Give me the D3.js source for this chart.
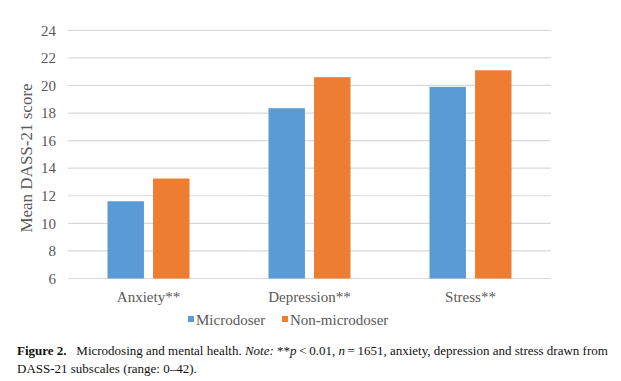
<!DOCTYPE html>
<html>
<head>
<meta charset="utf-8">
<script src="https://cdn.jsdelivr.net/npm/d3@7"></script>
<style>
  body { margin: 0; background: #fff; }
  svg text { font-family: "Liberation Serif", "Times New Roman", serif; }
</style>
</head>
<body>
<svg id="chart" width="621" height="381"></svg>
<script>
// data
var categories = ['Anxiety**', 'Depression**', 'Stress**'];
var seriesNames = ['Microdoser', 'Non-microdoser'];
var microdoser = [11.6, 18.35, 19.9];
var nonMicrodoser = [13.25, 20.6, 21.1];
var yTicks = [6, 8, 10, 12, 14, 16, 18, 20, 22, 24];
var colors = ['#5b9bd5', '#ed7d31'];

var svg = d3.select('#chart');

var plotLeft = 68, plotRight = 551, plotTop = 30.3, plotBottom = 278.5;

var y = d3.scaleLinear().domain([6, 24]).range([plotBottom, plotTop]);
var x0 = d3.scaleBand().domain(categories).range([plotLeft, plotRight]);
var groupW = 82;
var x1 = d3.scaleBand().domain(seriesNames).range([0, groupW]).paddingInner(0.2);

// gridlines
svg.append('g').selectAll('line')
  .data(yTicks)
  .enter().append('line')
  .attr('x1', plotLeft).attr('x2', plotRight)
  .attr('y1', function(d) { return y(d); })
  .attr('y2', function(d) { return y(d); })
  .attr('stroke', '#d9d9d9')
  .attr('stroke-width', 1.2);

// y tick labels
svg.append('g').selectAll('text')
  .data(yTicks)
  .enter().append('text')
  .attr('x', 56)
  .attr('y', function(d) { return y(d); })
  .attr('dy', '0.35em')
  .attr('text-anchor', 'end')
  .attr('font-size', 15)
  .attr('fill', '#595959')
  .text(function(d) { return d; });

// bars
var rows = categories.map(function(c, i) {
  return {cat: c, values: [microdoser[i], nonMicrodoser[i]]};
});

var groups = svg.append('g').selectAll('g')
  .data(rows)
  .enter().append('g')
  .attr('transform', function(d) {
    return 'translate(' + (x0(d.cat) + (x0.bandwidth() - groupW) / 2) + ',0)';
  });

groups.selectAll('rect')
  .data(function(d) { return d.values.map(function(v, j) { return {name: seriesNames[j], v: v, j: j}; }); })
  .enter().append('rect')
  .attr('x', function(d) { return x1(d.name); })
  .attr('width', x1.bandwidth())
  .attr('y', function(d) { return y(d.v); })
  .attr('height', function(d) { return y(6) - y(d.v); })
  .attr('fill', function(d) { return colors[d.j]; });

// category labels
svg.append('g').selectAll('text')
  .data(categories)
  .enter().append('text')
  .attr('x', function(d) { return x0(d) + x0.bandwidth() / 2; })
  .attr('y', 302)
  .attr('text-anchor', 'middle')
  .attr('font-size', 15)
  .attr('fill', '#595959')
  .text(function(d) { return d; });

// axis title
svg.append('text')
  .attr('transform', 'translate(32,158) rotate(-90)')
  .attr('text-anchor', 'middle')
  .attr('font-size', 17)
  .attr('fill', '#595959')
  .text('Mean DASS-21 score');

// legend
var legendX = [188, 282];
var legend = svg.append('g').selectAll('g')
  .data(seriesNames)
  .enter().append('g')
  .attr('transform', function(d, i) { return 'translate(' + legendX[i] + ',0)'; });
legend.append('rect')
  .attr('x', 0).attr('y', 316)
  .attr('width', 6).attr('height', 6)
  .attr('fill', function(d, i) { return colors[i]; });
legend.append('text')
  .attr('x', 8).attr('y', 325)
  .attr('font-size', 15)
  .attr('fill', '#595959')
  .text(function(d) { return d; });

// caption
var cap = svg.append('text')
  .attr('x', 17).attr('y', 355)
  .attr('font-size', 13)
  .attr('fill', '#111');
cap.append('tspan').attr('font-weight', 'bold').text('Figure 2.');
cap.append('tspan').text('\u2002 Microdosing and mental health. ');
cap.append('tspan').attr('font-style', 'italic').text('Note:');
cap.append('tspan').text(' **');
cap.append('tspan').attr('font-style', 'italic').text('p');
cap.append('tspan').text('\u2009<\u20090.01, ');
cap.append('tspan').attr('font-style', 'italic').text('n');
cap.append('tspan').text('\u2009=\u20091651, anxiety, depression and stress drawn from');

svg.append('text')
  .attr('x', 17).attr('y', 373)
  .attr('font-size', 13)
  .attr('fill', '#111')
  .text('DASS-21 subscales (range: 0\u201342).');
</script>
</body>
</html>
